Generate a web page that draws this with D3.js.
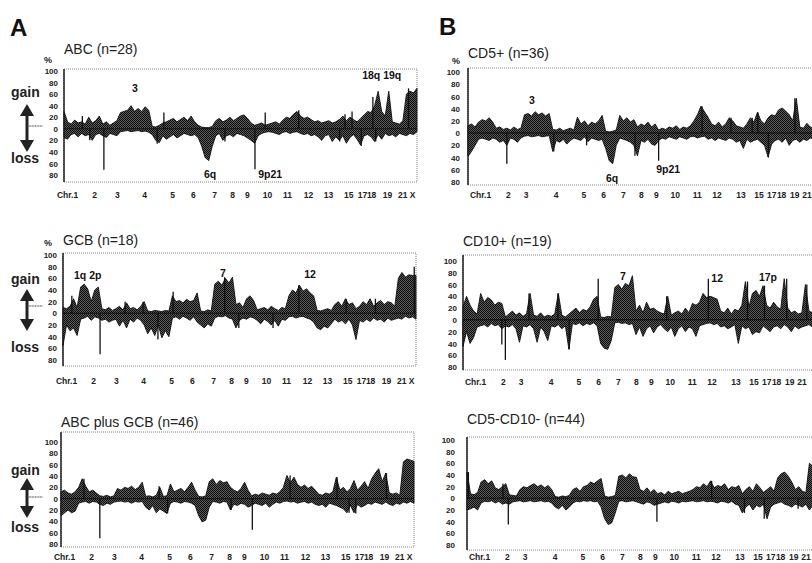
<!DOCTYPE html>
<html><head><meta charset="utf-8">
<script src="https://cdn.jsdelivr.net/npm/d3@7"></script>
<style>body{margin:0;background:#fff}svg{display:block}</style>
</head><body>
<svg id="c" width="812" height="563"></svg>
<script>
// ---------- data ----------
const chrLabels = ["Chr.1","2","3","4","5","6","7","8","9","10","11","12","13","15","17","18","19","21","X"];
const chrPosA = [0.85,8.5,15.0,22.7,30.6,36.5,42.5,47.6,51.8,57.5,63.2,69.1,74.8,80.5,84.4,87.0,91.5,95.8,98.6];
const chrPosB = [3.4,11.3,16.3,24.8,32.7,38.3,43.9,49.0,53.2,58.6,64.8,70.4,77.2,82.3,85.9,88.7,92.4,95.9];
const tickValues = [100,80,60,40,20,0,-20,-40,-60,-80];

// genome position index 0..100 ; gain % (up) and loss % (down)
const abcGain = [30,12,8,15,10,12,8,20,10,14, 22,8,12,6,10,14,28,30,32,40, 30,35,30,38,32,4,3,6,10,12,
  15,18,12,16,20,14,22,12,6,3, 2,2,4,14,18,12,15,20,14,18, 22,24,18,10,6,8,10,6,8,10,
  12,8,15,20,18,25,30,22,18,20, 16,12,14,10,12,14,10,12,16,22, 14,20,16,12,18,24,30,28,40,65,
  30,22,65,12,10,8,14,60,65,62, 70];
const abcLoss = [15,18,10,8,14,8,12,10,20,10, 8,12,15,8,10,12,5,4,3,5, 4,3,5,4,6,10,20,24,12,18,
  14,10,16,12,8,10,12,10,15,30, 50,55,30,12,8,20,12,10,14,8, 10,12,16,20,25,12,8,6,5,6,
  8,10,6,5,8,6,5,8,10,8, 12,10,14,20,12,10,22,14,20,12, 25,15,10,18,28,12,10,14,22,10,
  18,8,12,10,14,8,10,12,8,10, 5];
const abcSpikes = [[11.3,-71],[54.1,-70],[28.3,28],[57,28],[87.5,55],[5.2,22],[7.3,-20],[26.4,-26],
  [45.6,-22],[66.5,32],[78.1,-22],[79.6,25],[81.6,30],[84.2,-30],[88.3,-22],[97.6,70]];

const gcbGain = [10,8,12,25,10,45,50,42,20,40, 45,8,6,10,5,8,12,6,18,8, 10,6,12,20,4,3,5,4,3,5,
  4,30,20,22,18,24,20,22,35,4, 3,6,4,50,55,48,60,52,62,15, 18,10,25,30,22,6,8,10,6,12,
  8,5,10,8,30,40,35,48,38,42, 35,30,5,4,6,8,5,15,20,12, 25,15,18,8,12,20,15,25,12,18,
  22,15,20,18,12,60,70,62,66,65, 65];
const gcbLoss = [55,20,30,25,38,10,8,5,12,6, 8,12,10,15,12,10,22,12,25,10, 15,8,12,20,35,25,38,20,42,30,
  40,8,6,10,5,8,12,6,15,20, 25,18,22,8,5,6,4,8,10,25, 12,8,10,6,8,12,18,10,14,20,
  12,22,10,12,6,5,8,6,5,8, 10,15,25,28,22,25,18,10,15,12, 18,10,20,45,12,15,10,14,8,12,
  10,15,8,12,10,8,10,5,8,6, 10];
const gcbSpikes = [[10.5,-70],[99.5,80],[2.5,30],[17.6,20],[22.7,20],[26.9,-45],[31.2,37],[45.8,62],
  [49.8,-25],[59.5,-25],[66.8,48],[80.2,25],[88.5,25]];

const bothGain = [12,15,10,8,12,20,35,22,12,15, 10,5,4,6,3,5,18,15,20,18, 22,16,20,29,4,5,3,6,20,4,
  5,26,12,15,18,12,20,29,15,4, 3,5,30,35,25,32,28,30,20,15, 12,18,29,15,5,8,6,10,8,6,
  10,8,12,20,41,28,38,25,20,24, 18,22,15,8,6,10,8,12,38,15, 20,12,18,32,15,22,30,18,35,45,
  53,30,45,10,8,10,6,65,70,68, 66];
const bothLoss = [30,25,20,25,22,8,6,5,8,5, 6,10,12,8,10,6,5,4,6,5, 8,5,6,5,15,20,12,25,18,22,
  26,8,5,6,8,5,6,8,12,30, 41,38,15,5,6,8,5,6,20,10, 12,8,10,15,12,8,10,12,8,15,
  10,6,8,5,4,6,5,8,6,5, 8,6,10,12,10,15,8,10,12,15, 18,25,12,25,10,15,12,8,10,6,
  8,10,6,10,12,8,10,6,8,5, 8];
const bothSpikes = [[11,-70],[54.2,-55],[6.5,35],[27.8,22],[30.2,-26],[48.2,-20],[64.9,41],[78.2,38],
  [81.6,-25],[83.5,-26],[92.2,45]];

const cd5Gain = [12,15,10,18,22,20,25,18,8,10, 6,8,5,10,6,8,30,32,28,35, 30,33,28,32,6,5,8,4,6,8,
  5,26,15,20,12,18,15,20,29,3, 2,3,5,29,20,25,18,22,10,15, 12,18,10,15,5,8,6,10,8,12,
  6,10,8,12,20,30,44,35,26,15, 12,18,10,15,25,20,12,10,8,15, 25,18,34,20,15,25,30,28,38,41,
  36,30,20,57,10,8,16,10,8,12, 10];
const cd5Loss = [38,30,20,10,8,10,12,8,10,15, 12,20,8,10,15,8,5,4,6,5, 4,6,5,4,30,12,15,10,18,12,
  8,10,12,6,14,8,10,12,10,25, 45,50,20,8,10,12,15,20,37,12, 15,10,18,20,12,8,10,6,8,10,
  6,8,10,6,5,8,6,5,10,8, 12,8,10,12,8,10,15,12,25,10, 15,12,10,15,20,39,18,12,10,15,
  8,20,12,10,15,10,12,8,10,12, 10];
const cd5Spikes = [[11,-50],[54,-45],[24.3,-30],[33.6,-20],[47.3,-37],[66.3,44],[74.5,25],[80.5,25],
  [82.1,34],[85.1,-40],[92.6,57]];

const cd10Gain = [22,40,25,15,10,45,30,38,34,25, 30,28,5,10,15,8,12,6,10,45, 8,6,12,5,8,6,10,45,8,5,
  10,15,20,12,18,15,22,35,40,5, 4,6,5,55,60,52,62,58,75,15, 25,12,30,18,20,15,12,10,40,8,
  12,15,10,20,12,28,25,30,45,38, 40,38,35,15,12,20,10,18,15,25, 65,22,45,50,40,58,25,20,30,22,
  18,70,20,12,15,10,12,60,15,12, 10];
const cd10Loss = [45,20,40,30,12,10,8,12,6,10, 8,15,10,12,8,15,38,10,12,8, 15,38,12,20,35,10,12,8,15,10,
  50,6,8,5,10,6,8,5,10,40, 48,50,35,5,4,6,5,8,6,25, 12,28,15,10,22,12,8,15,20,12,
  28,15,10,20,12,15,28,10,8,6, 5,8,6,12,10,15,12,8,40,10, 15,12,25,20,22,10,15,20,12,10,
  15,8,12,20,10,15,12,10,8,12, 10];
const cd10Spikes = [[12,-68],[38.3,70],[69.5,70],[11,-42],[18.7,45],[26.9,45],[30.1,-50],[57.7,40],
  [80.6,65],[85.4,58],[91.7,70],[97.4,60]];

const dnGain = [45,8,6,10,28,32,25,30,18,15, 20,25,6,5,4,15,20,18,22,25, 20,23,18,22,15,3,2,4,3,5,
  15,18,12,20,22,28,25,30,34,4, 2,3,5,38,40,35,42,37,36,15, 12,18,10,15,8,10,6,12,8,10,
  12,8,10,12,15,20,18,25,20,30, 18,22,20,25,15,20,18,22,8,15, 20,12,25,18,10,15,20,12,35,42,
  45,38,28,15,20,12,10,60,55,20, 15];
const dnLoss = [20,18,15,20,8,5,6,4,8,5, 10,8,10,6,5,4,6,5,4,6, 5,4,6,5,8,15,18,12,20,15,
  8,5,6,4,5,4,6,5,15,35, 45,42,25,5,4,6,5,4,6,8, 10,6,8,12,10,8,6,8,5,6,
  8,5,6,5,4,6,5,4,6,5, 6,8,5,6,8,5,10,12,25,15, 10,20,12,15,10,35,15,10,8,6,
  10,12,15,10,12,15,10,20,12,8, 10];
const dnSpikes = [[11.7,-45],[53.8,-40],[0.4,45],[10.2,25],[69.3,30],[78.6,-25],[84.2,-35],[93.8,-18]];

// ---------- layout ----------
const W = 353;
const panels = [
  {title:"ABC (n=28)", gain:abcGain, loss:abcLoss, spikes:abcSpikes, chr:chrPosA,
   left:64, top:69, bottom:182, y100:71, y80:175, tickRight:58, titleY:54, chrY:199,
   pct:[44,63], arrow:{gainY:97, lossY:163, top:104, bottom:152, stubY:126},
   notes:[["3",20.1,92],["6q",41.4,178],["9p21",58.4,178],["18q 19q",90,79]]},
  {title:"GCB (n=18)", gain:gcbGain, loss:gcbLoss, spikes:gcbSpikes, chr:chrPosA,
   left:63, top:253, bottom:366, y100:255, y80:360, tickRight:57, titleY:245, chrY:385,
   pct:[44,246], arrow:{gainY:284, lossY:352, top:289, bottom:331, stubY:306},
   notes:[["1q 2p",7,279],["7",45.3,277],["12",70,278]]},
  {title:"ABC plus GCB (n=46)", gain:bothGain, loss:bothLoss, spikes:bothSpikes, chr:chrPosA,
   left:61, top:432, bottom:547, y100:442, y80:544, tickRight:58, titleY:427, chrY:561,
   pct:null, arrow:{gainY:475, lossY:532, top:478, bottom:518, stubY:497},
   notes:[]},
  {title:"CD5+ (n=36)", gain:cd5Gain, loss:cd5Loss, spikes:cd5Spikes, chr:chrPosB,
   left:468, top:68, bottom:185, y100:72, y80:182, tickRight:460, titleY:58, chrY:199,
   pct:[452,64], arrow:null,
   notes:[["3",18.1,104],["6q",40.8,182],["9p21",56.7,173]]},
  {title:"CD10+ (n=19)", gain:cd10Gain, loss:cd10Loss, spikes:cd10Spikes, chr:chrPosB,
   left:463, top:255, bottom:370, y100:261, y80:367, tickRight:457, titleY:246, chrY:386,
   pct:null, arrow:null,
   notes:[["7",45.3,280],["12",72,282],["17p",86.4,281]]},
  {title:"CD5-CD10- (n=44)", gain:dnGain, loss:dnLoss, spikes:dnSpikes, chr:chrPosB,
   left:467, top:437, bottom:550, y100:440, y80:545, tickRight:455, titleY:424, chrY:561,
   pct:null, arrow:null, notes:[]}
];

const svg = d3.select("#c");
const defs = svg.append("defs");
const pat = defs.append("pattern").attr("id","stip").attr("width",2).attr("height",2)
  .attr("patternUnits","userSpaceOnUse");
pat.append("rect").attr("width",2).attr("height",2).attr("fill","#5a5a5a");
pat.append("rect").attr("width",1).attr("height",1).attr("fill","#0d0d0d");
pat.append("rect").attr("x",1).attr("y",1).attr("width",1).attr("height",1).attr("fill","#0d0d0d");

const SANS = "'Liberation Sans', Arial, sans-serif";

// panel letters
svg.append("text").attr("x",10).attr("y",36).text("A")
  .attr("font-family",SANS).attr("font-weight","bold").attr("font-size",24).attr("fill","#111");
svg.append("text").attr("x",439).attr("y",35).text("B")
  .attr("font-family",SANS).attr("font-weight","bold").attr("font-size",24).attr("fill","#111");

panels.forEach(p => {
  const g = svg.append("g");
  const x = d3.scaleLinear().domain([0,100]).range([p.left, p.left + W]);
  const y = d3.scaleLinear().domain([100,-80]).range([p.y100, p.y80]);
  const idx = d3.range(p.gain.length);

  // box
  g.append("rect").attr("x",p.left).attr("y",p.top).attr("width",W).attr("height",p.bottom-p.top)
    .attr("fill","none").attr("stroke","#666").attr("stroke-width",0.8).attr("stroke-dasharray","1,1");
  g.append("line").attr("x1",p.left).attr("x2",p.left).attr("y1",p.top).attr("y2",p.bottom)
    .attr("stroke","#111").attr("stroke-width",1.4);

  const areaG = d3.area().x(i => x(i)).y0(y(0)).y1(i => y(p.gain[i]));
  const areaL = d3.area().x(i => x(i)).y0(y(0)).y1(i => y(-p.loss[i]));
  [areaG, areaL].forEach(a => {
    g.append("path").datum(idx).attr("d",a).attr("fill","url(#stip)")
      .attr("stroke","#111").attr("stroke-width",0.9).attr("stroke-linejoin","miter");
  });
  g.selectAll(null).data(p.spikes).enter().append("line")
    .attr("x1",d => x(d[0])).attr("x2",d => x(d[0]))
    .attr("y1",y(0)).attr("y2",d => y(d[1]))
    .attr("stroke","#111").attr("stroke-width",1.3);

  // y axis
  const ya = g.append("g").attr("transform",`translate(${p.tickRight},0)`)
    .call(d3.axisLeft(y).tickValues(tickValues).tickFormat(v => Math.abs(v)).tickSize(0).tickPadding(0));
  ya.select(".domain").remove();
  ya.selectAll("text").attr("font-family",SANS).attr("font-weight","bold").attr("font-size",8)
    .attr("fill","#222").attr("x",0);

  // chromosome axis
  const xa = g.append("g").attr("transform",`translate(0,${p.chrY - 7})`)
    .call(d3.axisBottom(x).tickValues(p.chr).tickFormat((d,i) => chrLabels[i]).tickSize(0).tickPadding(0));
  xa.select(".domain").remove();
  xa.selectAll("text").attr("font-family",SANS).attr("font-weight","bold").attr("font-size",8.5)
    .attr("fill","#222");

  // title
  g.append("text").attr("x",p.left).attr("y",p.titleY).text(p.title)
    .attr("font-family",SANS).attr("font-size",14).attr("fill","#222");

  if (p.pct) g.append("text").attr("x",p.pct[0]).attr("y",p.pct[1]).text("%")
    .attr("font-family",SANS).attr("font-weight","bold").attr("font-size",9).attr("fill","#222");

  p.notes.forEach(n => {
    g.append("text").attr("x",x(n[1])).attr("y",n[2]).text(n[0]).attr("text-anchor","middle")
      .attr("font-family",SANS).attr("font-weight","bold").attr("font-size",10.5).attr("fill","#111");
  });

  if (p.arrow) {
    const a = p.arrow, ax = 27;
    g.append("text").attr("x",11).attr("y",a.gainY).text("gain")
      .attr("font-family",SANS).attr("font-weight","bold").attr("font-size",14).attr("fill","#222");
    g.append("text").attr("x",11).attr("y",a.lossY).text("loss")
      .attr("font-family",SANS).attr("font-weight","bold").attr("font-size",14).attr("fill","#222");
    g.append("line").attr("x1",ax).attr("x2",ax).attr("y1",a.top+8).attr("y2",a.bottom-8)
      .attr("stroke","#222").attr("stroke-width",3);
    g.append("path").attr("d",`M${ax-7},${a.top+12}L${ax},${a.top}L${ax+7},${a.top+12}Z`).attr("fill","#222");
    g.append("path").attr("d",`M${ax-7},${a.bottom-12}L${ax},${a.bottom}L${ax+7},${a.bottom-12}Z`).attr("fill","#222");
    g.append("line").attr("x1",ax).attr("x2",ax+16).attr("y1",a.stubY).attr("y2",a.stubY)
      .attr("stroke","#333").attr("stroke-width",1.2).attr("stroke-dasharray","1,0.6");
  }
});
</script>
</body></html>
